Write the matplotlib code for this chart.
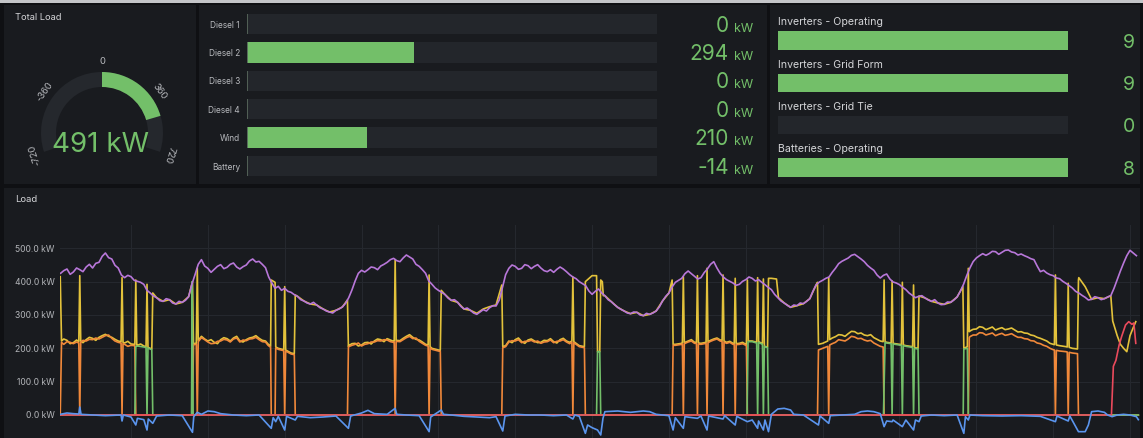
import matplotlib
matplotlib.use('Agg')
import matplotlib.pyplot as plt
import matplotlib.transforms as mtransforms
from matplotlib.patches import Rectangle
import numpy as np

plt.rcParams['font.family'] = ['Inter', 'DejaVu Sans']

# ---------------- data ----------------
gauge_value = 491
gauge_min, gauge_max = -720, 720
gauge_ticks = [-720, -360, 0, 360, 720]

source_names = ['Diesel 1', 'Diesel 2', 'Diesel 3', 'Diesel 4', 'Wind', 'Battery']
source_kw = [0, 294, 0, 0, 210, -14]
source_max = 720

count_names = ['Inverters - Operating', 'Inverters - Grid Form', 'Inverters - Grid Tie', 'Batteries - Operating']
count_values = [9, 9, 0, 8]
count_max = [9, 9, 9, 8]

y_ticks = [0, 100, 200, 300, 400, 500]
hours = np.arange(1, 169.01, 0.5)
total_load_kw = [
    425, 433, 438, 422, 429, 441, 436, 430, 444, 452,
    441, 455, 458, 476, 486, 472, 468, 449, 441, 420,
    412, 419, 415, 404, 401, 398, 392, 374, 366, 357,
    352, 343, 341, 349, 346, 336, 333, 341, 338, 344,
    355, 392, 421, 452, 466, 447, 440, 428, 437, 446,
    451, 439, 443, 452, 456, 444, 438, 445, 450, 462,
    468, 459, 461, 452, 442, 414, 396, 380, 386, 374,
    380, 371, 368, 361, 356, 346, 342, 336, 333, 338,
    330, 322, 318, 312, 309, 306, 314, 318, 324, 335,
    352, 375, 402, 425, 434, 429, 436, 444, 442, 436,
    447, 452, 458, 466, 470, 463, 460, 471, 480, 474,
    468, 452, 446, 436, 425, 402, 392, 381, 374, 368,
    362, 351, 344, 346, 338, 326, 318, 321, 314, 306,
    302, 309, 316, 312, 322, 328, 327, 345, 382, 421,
    440, 450, 446, 437, 440, 451, 448, 439, 446, 451,
    441, 433, 430, 436, 428, 437, 444, 438, 430, 421,
    414, 409, 400, 394, 388, 372, 362, 371, 378, 366,
    358, 346, 340, 331, 323, 317, 312, 306, 304, 309,
    308, 300, 298, 305, 302, 306, 312, 324, 342, 356,
    366, 384, 398, 404, 410, 424, 432, 424, 416, 408,
    412, 427, 438, 452, 460, 441, 425, 414, 406, 401,
    396, 389, 392, 401, 406, 414, 410, 402, 406, 398,
    391, 383, 376, 362, 352, 342, 336, 329, 323, 330,
    328, 336, 334, 341, 349, 372, 391, 399, 404, 410,
    414, 428, 440, 454, 461, 466, 471, 479, 482, 475,
    468, 460, 449, 441, 434, 420, 411, 419, 423, 408,
    399, 396, 391, 383, 376, 366, 359, 352, 356, 358,
    351, 345, 341, 346, 336, 331, 332, 339, 338, 345,
    354, 371, 392, 418, 441, 460, 471, 478, 484, 479,
    484, 491, 490, 482, 488, 494, 495, 489, 487, 480,
    483, 478, 474, 469, 466, 447, 430, 434, 426, 421,
    418, 411, 409, 401, 395, 388, 381, 371, 366, 359,
    353, 345, 347, 355, 352, 346, 349, 354, 358, 380,
    406, 432, 456, 478, 494, 486, 478]

diesel2 = [
    (0.95, 415), (1.15, 222), (1.5, 228), (2, 224), (2.5, 214), (3, 217), (3.5, 225), (3.85, 220),
    (4.0, 418), (4.15, 222), (4.5, 217), (5, 226), (5.5, 233), (6, 230), (6.5, 224), (7, 233), (7.5, 238),
    (8, 242), (8.5, 236), (9, 233), (9.5, 227), (10, 222), (10.45, 220), (10.6, 412), (10.75, 218),
    (11, 216), (11.5, 221), (12, 213), (12.6, 212), (12.75, 405), (12.9, 210), (13, 209), (13.5, 213),
    (14, 207), (14.35, 205), (14.5, 392), (14.65, 203), (15, 200), (15.25, 198), (15.4, 366), (16, 352),
    (17, 341), (18, 346), (19, 333), (20, 338), (21, 355), (21.6, 400), (21.75, 212), (22, 215),
    (22.2, 215), (22.35, 440), (22.5, 224), (23, 236), (23.5, 228), (24, 222), (24.5, 226), (25, 218),
    (25.5, 214), (26, 226), (26.5, 232), (27, 229), (27.5, 222), (28, 231), (28.5, 236), (29, 222),
    (29.5, 219), (30, 226), (30.5, 231), (31, 233), (31.5, 238), (32, 230), (32.5, 224), (33, 222),
    (33.4, 213), (33.8, 206), (33.9, 405), (34.5, 398), (34.6, 204), (35, 200), (35.85, 196), (36.0, 385),
    (36.15, 195), (37, 186), (37.5, 184), (37.65, 360), (38, 356), (39, 342), (40, 333), (41, 330),
    (42, 318), (43, 309), (44, 314), (45, 324), (45.8, 345), (45.95, 205), (46, 208), (46.5, 214),
    (47, 215), (47.5, 207), (48, 210), (48.5, 217), (49, 218), (49.5, 213), (50, 222), (50.5, 228),
    (51, 226), (51.5, 220), (52, 229), (52.5, 225), (53, 221), (53.1, 222), (53.25, 466), (53.4, 224),
    (54, 223), (54.5, 230), (55, 236), (55.5, 241), (56, 233), (56.5, 227), (57, 225), (57.5, 219),
    (58, 212), (58.4, 210), (58.55, 420), (58.7, 205), (59, 200), (60, 195), (60.3, 194), (60.45, 374),
    (61, 362), (62, 344), (63, 338), (64, 318), (65, 314), (66, 305), (67, 318), (68, 325), (69, 330),
    (69.9, 390), (70.05, 205), (70.5, 208), (71, 222), (71.5, 217), (72, 226), (72.5, 231), (73, 220),
    (73.5, 215), (74, 225), (74.5, 228), (75, 222), (75.5, 217), (76, 218), (76.5, 224), (77, 223),
    (77.5, 229), (78, 220), (78.5, 216), (79, 226), (79.5, 230), (80, 222), (80.5, 218), (80.85, 222),
    (81.0, 414), (81.15, 220), (82, 208), (82.8, 205), (82.95, 400), (84, 418), (84.7, 418), (84.85, 190),
    (85.2, 190), (85.35, 405), (85.6, 400), (85.75, 358), (86, 358), (87, 340), (88, 323), (89, 312),
    (90, 304), (91, 308), (92, 298), (93, 302), (94, 312), (95, 342), (96, 366), (96.5, 405), (96.65, 212),
    (97, 212), (98, 215), (98.1, 216), (98.25, 415), (98.4, 217), (99, 222), (99.5, 226), (100, 218),
    (100.3, 218), (100.45, 418), (100.6, 216), (101, 215), (101.8, 218), (101.95, 440), (102.1, 220),
    (102.5, 224), (103, 228), (103.5, 231), (104, 225), (104.3, 224), (104.45, 420), (104.6, 222),
    (105, 218), (105.5, 221), (106, 215), (106.2, 215), (106.35, 410), (106.5, 214), (107, 215),
    (107.5, 218), (108, 212), (108.1, 212), (108.25, 405), (108.4, 222), (109, 222), (109.7, 218),
    (109.85, 412), (110, 220), (110.6, 214), (110.75, 408), (110.9, 208), (111, 205), (111.4, 204),
    (111.55, 410), (112, 410), (112.8, 408), (113.1, 352), (114, 336), (115, 323), (116, 328), (117, 334),
    (118, 349), (119, 391), (119.2, 398), (119.35, 212), (120, 215), (120.8, 222), (120.95, 412),
    (121.1, 226), (121.5, 231), (122, 235), (122.5, 241), (123, 240), (123.5, 236), (124, 244),
    (124.5, 251), (125, 250), (125.5, 244), (126, 246), (126.5, 240), (127, 238), (127.5, 241), (128, 232),
    (128.5, 227), (129, 222), (129.45, 220), (129.6, 405), (129.75, 220), (130, 218), (130.7, 216),
    (130.85, 402), (131, 215), (132, 212), (132.3, 211), (132.45, 398), (132.6, 210), (133, 208),
    (134, 205), (134.05, 205), (134.2, 390), (134.35, 202), (134.9, 200), (135.05, 357), (136, 351),
    (137, 341), (138, 336), (139, 332), (140, 338), (141, 354), (141.9, 385), (142.05, 200), (142.6, 205),
    (142.75, 440), (142.9, 250), (143, 252), (143.5, 257), (144, 258), (144.5, 265), (145, 263),
    (145.5, 256), (146, 260), (146.5, 264), (147, 255), (147.5, 259), (148, 262), (148.5, 256), (149, 258),
    (149.5, 261), (150, 255), (150.5, 249), (151, 250), (151.5, 246), (152, 245), (152.5, 240), (153, 238),
    (153.5, 233), (154, 230), (154.5, 226), (155, 222), (155.5, 215), (156, 212), (156.2, 211),
    (156.35, 420), (156.5, 210), (157, 208), (158, 205), (158.2, 204), (158.35, 395), (158.5, 203),
    (159, 200), (159.8, 198), (159.95, 405), (160, 412), (161, 385), (162, 347), (163, 352), (164, 349),
    (165, 358), (165.3, 282), (166, 238), (166.5, 212), (167, 200), (167.5, 190), (168, 238), (168.5, 262),
    (168.9, 280)]

diesel1 = [
    (0.95, 0), (1.15, 218), (1.5, 212), (2, 220), (2.5, 218), (3, 214), (3.5, 219), (3.85, 216), (4.0, 0),
    (4.15, 218), (4.5, 224), (5, 222), (5.5, 227), (6, 226), (6.5, 231), (7, 228), (7.5, 233), (8, 238),
    (8.5, 240), (9, 230), (9.5, 222), (10, 218), (10.45, 216), (10.6, 0), (10.75, 214), (11, 212),
    (11.5, 206), (12, 209), (12.6, 208), (12.75, 0), (21.6, 0), (21.75, 210), (22, 212), (22.2, 212),
    (22.35, 0), (22.5, 220), (23, 232), (23.5, 226), (24, 219), (24.5, 214), (25, 215), (25.5, 221),
    (26, 222), (26.5, 227), (27, 225), (27.5, 219), (28, 228), (28.5, 231), (29, 219), (29.5, 225),
    (30, 223), (30.5, 228), (31, 229), (31.5, 233), (32, 226), (32.5, 220), (33, 219), (33.4, 209),
    (33.8, 203), (33.9, 0), (34.5, 0), (34.6, 201), (35, 197), (35.85, 193), (36.0, 0), (36.15, 192),
    (37, 183), (37.5, 181), (37.65, 0), (45.8, 0), (45.95, 202), (46, 205), (46.5, 209), (47, 212),
    (47.5, 216), (48, 207), (48.5, 212), (49, 214), (49.5, 219), (50, 219), (50.5, 223), (51, 222),
    (51.5, 226), (52, 225), (52.5, 220), (53, 218), (53.1, 219), (53.25, 0), (53.4, 221), (54, 220),
    (54.5, 226), (55, 232), (55.5, 236), (56, 229), (56.5, 231), (57, 221), (57.5, 215), (58, 209),
    (58.4, 207), (58.55, 0), (58.7, 202), (59, 197), (60, 192), (60.3, 191), (60.45, 0), (69.9, 0),
    (70.05, 202), (70.5, 205), (71, 219), (71.5, 223), (72, 222), (72.5, 226), (73, 217), (73.5, 221),
    (74, 221), (74.5, 224), (75, 219), (75.5, 222), (76, 215), (76.5, 219), (77, 220), (77.5, 225),
    (78, 217), (78.5, 221), (79, 222), (79.5, 226), (80, 219), (80.5, 214), (80.85, 219), (81.0, 0),
    (81.15, 217), (82, 205), (82.8, 202), (82.95, 0), (96.5, 0), (96.65, 209), (97, 209), (98, 212),
    (98.1, 213), (98.25, 0), (98.4, 214), (99, 219), (99.5, 222), (100, 215), (100.3, 215), (100.45, 0),
    (100.6, 213), (101, 212), (101.8, 215), (101.95, 0), (102.1, 217), (102.5, 221), (103, 225),
    (103.5, 228), (104, 222), (104.3, 221), (104.45, 0), (104.6, 219), (105, 215), (105.5, 218), (106, 212),
    (106.2, 212), (106.35, 0), (106.5, 211), (107, 212), (107.5, 214), (108, 209), (108.1, 209),
    (108.25, 0), (119.2, 0), (119.35, 195), (120, 200), (120.8, 206), (120.95, 0), (121.1, 210),
    (121.5, 214), (122, 218), (122.5, 226), (123, 224), (123.5, 222), (124, 228), (124.5, 236), (125, 234),
    (125.5, 229), (126, 230), (126.5, 225), (127, 222), (127.5, 224), (128, 216), (128.5, 211), (129, 206),
    (129.45, 204), (129.6, 0), (142.75, 0), (142.9, 232), (143, 235), (143.5, 240), (144, 240),
    (144.5, 247), (145, 246), (145.5, 240), (146, 243), (146.5, 246), (147, 238), (147.5, 242), (148, 245),
    (148.5, 239), (149, 241), (149.5, 244), (150, 238), (150.5, 233), (151, 233), (151.5, 229), (152, 228),
    (152.5, 223), (153, 222), (153.5, 216), (154, 214), (154.5, 209), (155, 206), (155.5, 200), (156, 196),
    (156.2, 195), (156.35, 0), (156.5, 194), (157, 192), (158, 190), (158.2, 189), (158.35, 0),
    (158.5, 188), (159, 186), (159.8, 184), (159.95, 0), (169.3, 0)]

diesel3 = [
    (0.95, 0), (12.6, 0), (12.75, 205), (13, 207), (14, 204), (14.35, 203), (14.5, 0), (14.65, 201),
    (15, 198), (15.25, 196), (15.4, 0), (21.45, 0), (21.55, 400), (21.7, 0), (84.7, 0), (84.85, 190),
    (85.2, 190), (85.35, 0), (108.2, 0), (108.35, 220), (109, 220), (109.7, 216), (109.85, 0), (110, 218),
    (110.6, 212), (110.75, 0), (110.9, 206), (111.4, 202), (111.55, 0), (129.5, 0), (129.75, 218),
    (130, 216), (130.7, 214), (130.85, 0), (131, 213), (132, 210), (132.3, 209), (132.45, 0), (132.6, 208),
    (133, 206), (134, 203), (134.05, 203), (134.2, 0), (134.35, 200), (134.9, 198), (135.05, 0),
    (141.95, 0), (142.05, 198), (142.6, 200), (142.75, 0), (169.3, 0)]

wind = [
    (0.95, 0), (165.1, 0), (165.4, 146), (165.8, 164), (166.3, 210), (166.7, 236), (167.3, 270),
    (167.8, 280), (168.3, 272), (168.6, 276), (168.9, 215)]

battery = [
    (0.95, 2), (2, 6), (3, 4), (3.85, 3), (4.0, 24), (4.2, 2), (6, 0), (8, -2), (10.45, 0), (10.6, -18),
    (10.8, 0), (12, -6), (12.75, -30), (13, -10), (14, -14), (14.5, -45), (14.7, -12), (15.4, -25), (16, -3),
    (18, 0), (20, -2), (21.6, -52), (21.8, -5), (22.35, 8), (23, 2), (24, 12), (25, 10), (26, 4), (28, 0),
    (30, -2), (32, 0), (33.9, -40), (34.2, -8), (34.6, -20), (35, -4), (36.0, -45), (36.3, -4), (37.65, -15),
    (38, -4), (40, -8), (42, -6), (44, -3), (45.95, -40), (46.3, -3), (48, 6), (49, 14), (50, 4), (52, 2),
    (53.25, 20), (53.5, 2), (55, 0), (57, -2), (58.55, -50), (58.8, -6), (60.45, 15), (60.8, 2), (62, 0),
    (64, -4), (66, -6), (68, -8), (69, -5), (70.05, -48), (70.4, -3), (72, 2), (74, 0), (76, 0), (78, -2),
    (80, 0), (81.0, -12), (81.3, 0), (82, -4), (82.95, -55), (83.3, -30), (84, -38), (84.85, -45),
    (85.35, -60), (85.7, -10), (86, 10), (88, 12), (89, 10), (90, 8), (92, 12), (93, 10), (94, 2), (96, -2),
    (96.65, -45), (97, -8), (98.25, -40), (98.5, -5), (100.45, -10), (101, -3), (101.95, -45), (102.2, -3),
    (104.45, -12), (104.7, -2), (106.35, -30), (106.6, -4), (108.25, -20), (109, -15), (109.85, -40),
    (110, -18), (110.75, -45), (111, -15), (111.55, -50), (112, 2), (113, 18), (114, 20), (115, 15),
    (115.5, 2), (117, 0), (119.35, -30), (119.6, -3), (120.95, -25), (121.2, -2), (123, 0), (125, 2),
    (126, 10), (127, 12), (128, 10), (129, 4), (129.6, -35), (130, -18), (130.85, -20), (131, -15),
    (132.45, -35), (133, -15), (134.2, -45), (134.5, -15), (135.05, -20), (135.4, -3), (137, 0), (139, -2),
    (141, 0), (142.05, -55), (142.3, -5), (142.75, -15), (143, 0), (145, -2), (148, -3), (151, -2),
    (154, -4), (156.35, -20), (156.6, -3), (158.35, -18), (158.6, -3), (159.95, -50), (161, -50),
    (161.5, -30), (162, 10), (163, 12), (164, 8), (164.5, 0), (165.2, -5), (166, 0), (167, 2), (168, 0),
    (169.0, -5), (169.3, -14)]

# ---------------- style ----------------
W, H = 1143, 438
BG = '#0f1013'
PANEL = '#191b1f'
TRACK = '#23262b'
GREEN = '#73bf69'
TXT = '#d4d5d8'
SUB = '#b8babe'

fig = plt.figure(figsize=(W / 100, H / 100), dpi=100)
fig.patch.set_facecolor(BG)


def add_rect(x0, y0, x1, y1, color, z=-5):
    fig.add_artist(Rectangle((x0 / W, 1 - y1 / H), (x1 - x0) / W, (y1 - y0) / H,
                             transform=fig.transFigure, facecolor=color, edgecolor='none', zorder=z))


def axes_px(x0, y0, x1, y1, **kw):
    ax = fig.add_axes([x0 / W, 1 - y1 / H, (x1 - x0) / W, (y1 - y0) / H], **kw)
    ax.set_facecolor('none')
    return ax


def ftext(x, y, s, **kw):
    return fig.text(x / W, 1 - y / H, s, **kw)


# panels
add_rect(0, 0, W, 3, '#c4c5c8')
add_rect(4, 5, 196, 184, PANEL)
add_rect(199, 5, 767, 184, PANEL)
add_rect(770, 5, 1140, 184, PANEL)
add_rect(4, 188, 1140, H, PANEL)

# ---------------- gauge ----------------
ftext(15, 18, 'Total Load', fontsize=6.7, color=TXT, va='center', ha='left')
cx, cy, box = 102, 133, 82
gax = fig.add_axes([(cx - box) / W, 1 - (cy + box) / H, 2 * box / W, 2 * box / H], projection='polar')
gax.set_theta_zero_location('N')
gax.set_theta_direction(-1)
gax.set_ylim(0, box)
gax.axis('off')
half_sweep = np.deg2rad(108)


def theta(v):
    return v / gauge_max * half_sweep


gax.bar(theta(gauge_min), 15, width=theta(gauge_max) - theta(gauge_min), bottom=46,
        align='edge', color='#25282d', edgecolor='none')
gax.bar(theta(0), 15, width=theta(gauge_value) - theta(0), bottom=46,
        align='edge', color=GREEN, edgecolor='none')
for v in gauge_ticks:
    a = theta(v)
    gax.text(a, 71, f'{v}', rotation=-np.rad2deg(a), rotation_mode='anchor',
             ha='center', va='center', fontsize=6.8, color=SUB)
ftext(100, 145, f'{gauge_value} kW', fontsize=20, color=GREEN, ha='center', va='center')

# ---------------- bar gauge (sources) ----------------
bax = axes_px(247, 9.8, 657, 180.2)
rows = np.arange(len(source_names))
bax.barh(rows, [source_max] * len(rows), height=0.72, color=TRACK, edgecolor='none')
bax.barh(rows, np.clip(source_kw, 0, None), height=0.72, color=GREEN, edgecolor='none')
bax.vlines(np.zeros(len(rows)), rows - 0.36, rows + 0.36, color='#56665a', lw=1.3)
bax.set_xlim(0, source_max)
bax.set_ylim(len(rows) - 0.5, -0.5)
bax.set_xticks([])
bax.set_yticks(rows)
bax.set_yticklabels(source_names, fontsize=6.0, color=SUB)
bax.tick_params(axis='y', length=0, pad=5)
for s in bax.spines.values():
    s.set_visible(False)
blend = mtransforms.blended_transform_factory(fig.transFigure, bax.transData)
for i, v in enumerate(source_kw):
    fig.text(729 / W, i + 0.27, f'{v}', transform=blend, ha='right', va='baseline',
             fontsize=15, color=GREEN)
    fig.text(734 / W, i + 0.27, 'kW', transform=blend, ha='left', va='baseline',
             fontsize=9, color=GREEN)

# ---------------- counts ----------------
cax = axes_px(778, 19.3, 1068, 188.7)
crow = np.arange(len(count_names))
frac = np.array(count_values) / np.array(count_max)
cax.barh(crow, [1] * len(crow), height=0.43, color=TRACK, edgecolor='none')
cax.barh(crow, frac, height=0.43, color=GREEN, edgecolor='none')
cax.set_xlim(0, 1)
cax.set_ylim(len(crow) - 0.5, -0.5)
cax.axis('off')
for i, name in enumerate(count_names):
    cax.text(0, i - 0.43, name, ha='left', va='center', fontsize=7.6, color=TXT)
cblend = mtransforms.blended_transform_factory(fig.transFigure, cax.transData)
for i, v in enumerate(count_values):
    fig.text(1135 / W, i + 0.17, f'{v}', transform=cblend, ha='right', va='baseline',
             fontsize=14, color=GREEN)

# ---------------- time series ----------------
ftext(15, 200, 'Load', fontsize=6.8, color=TXT, va='center', ha='left')
tax = axes_px(60, 225, 1140, H)
tax.set_xlim(0.913, 169.56)
tax.set_ylim(-69, 570)
for s in tax.spines.values():
    s.set_visible(False)
tax.set_xticks(np.arange(12, 169, 12))
tax.set_xticklabels([])
tax.set_yticks(y_ticks)
tax.set_yticklabels([f'{v:.1f} kW' for v in y_ticks], fontsize=6.2, color='#b4b6ba')
tax.tick_params(length=0, pad=4)
tax.grid(True, color='#25282e', lw=0.8)
tax.set_axisbelow(True)


def plot_series(data, color, z):
    arr = np.array(data, dtype=float)
    tax.plot(arr[:, 0], arr[:, 1], color=color, lw=1.2, zorder=z, solid_joinstyle='round')


plot_series(diesel2, '#e3c23b', 3)
plot_series(diesel1, '#f0883a', 4)
plot_series(diesel3, '#73bf69', 5)
plot_series(wind, '#ea4a5c', 6)
plot_series(battery, '#5b95ee', 7)
tax.plot(hours, total_load_kw, color='#b877d9', lw=1.2, zorder=8)

fig.savefig('out.png', dpi=100, facecolor=BG)
